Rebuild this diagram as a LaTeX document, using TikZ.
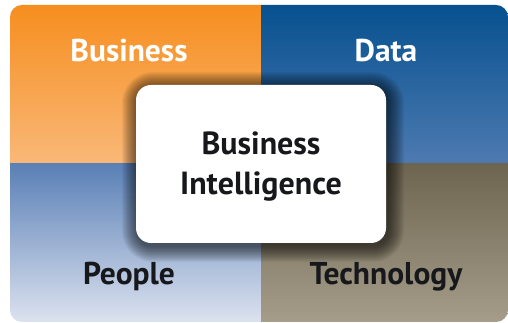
\documentclass[tikz,border=0pt]{standalone}
\usepackage{fontspec}
\setmainfont{PT Sans}
\definecolor{orTop}{HTML}{F68E1F}
\definecolor{orBot}{HTML}{F9B878}
\definecolor{daTop}{HTML}{06518F}
\definecolor{daBot}{HTML}{4E7AB1}
\definecolor{peTop}{HTML}{5A80B6}
\definecolor{peBot}{HTML}{DCE2EF}
\definecolor{teTop}{HTML}{6D6550}
\definecolor{teBot}{HTML}{A59D89}
\definecolor{txtDark}{HTML}{16181B}
\tikzset{
  quadlabel/.style={font=\fontsize{31.5}{31.5}\selectfont\bfseries, anchor=base, inner sep=0pt},
  centerlabel/.style={font=\fontsize{32}{40}\selectfont\bfseries, align=center, text=txtDark, inner sep=0pt},
  bibox/.style={fill=white, rounded corners=15pt, minimum width=250pt, minimum height=158pt, inner sep=0pt},
  shadowlayer/.style={fill=black, fill opacity=0.045}
}
\begin{document}
\begin{tikzpicture}[x=1pt,y=1pt]
\useasboundingbox (0,0) rectangle (508,323);
\fill[white] (0,0) rectangle (508,323);
\begin{scope}
  \clip[rounded corners=12pt] (10,1) rectangle (508,318);
  \shade[top color=orTop, bottom color=orBot] (10,159) rectangle (261,318);
  \shade[top color=daTop, bottom color=daBot] (261,159) rectangle (508,318);
  \shade[top color=peTop, bottom color=peBot] (10,1) rectangle (261,159);
  \shade[top color=teTop, bottom color=teBot] (261,1) rectangle (508,159);
  \foreach \i in {1,...,16}{
    \fill[shadowlayer, rounded corners={15pt+\i pt}] (136-\i+2,80-\i-3) rectangle (386+\i+2,238+\i-3);
  }
\end{scope}
\node[quadlabel, text=white] (business) at (129,261) {Business};
\node[quadlabel, text=white] (data) at (386,261) {Data};
\node[quadlabel, text=txtDark] (people) at (129,38) {People};
\node[quadlabel, text=txtDark] (technology) at (386,38) {Technology};
\node[bibox] (bi) at (261,159) {};
\node[centerlabel] (bitext) at (261,156) {Business\\Intelligence};
\end{tikzpicture}
\end{document}
